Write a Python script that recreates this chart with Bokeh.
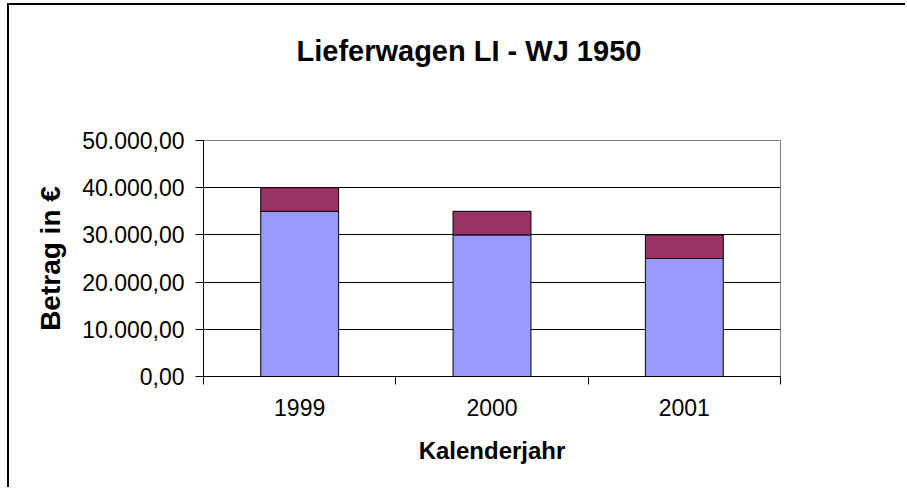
from bokeh.plotting import figure
from bokeh.models import ColumnDataSource, FixedTicker, Range1d, Title
from bokeh.embed import file_html
from bokeh.resources import INLINE

# ---- data ----
years = ["1999", "2000", "2001"]
series_a = [35000, 30000, 25000]
series_b = [5000, 5000, 5000]
y_ticks = [0, 10000, 20000, 30000, 40000, 50000]
y_tick_labels = ["0,00", "10.000,00", "20.000,00", "30.000,00", "40.000,00", "50.000,00"]
title_text = "Lieferwagen LI - WJ 1950"
x_title = "Kalenderjahr"
y_title = "Betrag in €"

FONT = "Liberation Sans"

x_pos = [i + 0.5 for i in range(len(years))]
src = ColumnDataSource(dict(x=x_pos, a=series_a, b=series_b))

p = figure(width=898, height=484,
           x_range=Range1d(0, len(years)), y_range=Range1d(0, 50000),
           output_backend="svg", toolbar_location=None, title=None,
           min_border_left=194, min_border_right=127,
           min_border_top=135, min_border_bottom=113)
p.styles = {"border-left": "2px solid black", "border-top": "2px solid black",
            "margin-left": "7px", "margin-top": "3px"}

p.vbar_stack(["a", "b"], x="x", width=0.405, source=src,
             fill_color=["#9999FF", "#993366"], line_color="black", line_width=1)

p.background_fill_color = "white"
p.border_fill_color = "white"
p.outline_line_color = "#808080"
p.outline_line_width = 1

# y axis
p.yaxis.ticker = FixedTicker(ticks=y_ticks)
p.yaxis.major_label_overrides = {t: l for t, l in zip(y_ticks, y_tick_labels)}
p.yaxis.major_tick_out = 8
p.yaxis.major_tick_in = 0
p.yaxis.minor_tick_line_color = None
p.yaxis.major_label_standoff = 11
p.yaxis.axis_label = y_title
p.yaxis.axis_label_standoff = 13

# x axis
p.xaxis.ticker = FixedTicker(ticks=x_pos, minor_ticks=list(range(len(years) + 1)))
p.xaxis.major_label_overrides = {x: y for x, y in zip(x_pos, years)}
p.xaxis.major_tick_line_color = None
p.xaxis.major_tick_out = 0
p.xaxis.major_tick_in = 0
p.xaxis.minor_tick_out = 8
p.xaxis.minor_tick_in = 0
p.xaxis.minor_tick_line_color = "black"
p.xaxis.major_label_standoff = 14
p.xaxis.axis_label = x_title
p.xaxis.axis_label_standoff = 18

for ax in (p.xaxis[0], p.yaxis[0]):
    ax.axis_line_color = "black"
    ax.major_label_text_font = FONT
    ax.major_label_text_font_size = "23px"
    ax.major_label_text_color = "black"
    ax.axis_label_text_font = FONT
    ax.axis_label_text_font_style = "bold"
    ax.axis_label_text_color = "black"
p.xaxis.axis_label_text_font_size = "24px"
p.yaxis.axis_label_text_font_size = "28px"
p.yaxis.major_tick_line_color = "black"

p.xgrid.grid_line_color = None
p.ygrid.ticker = FixedTicker(ticks=y_ticks[1:-1])
p.ygrid.grid_line_color = "black"
p.ygrid.grid_line_width = 1

# title: two padding lines below keep the heading high inside the top panel
title = Title(text=title_text + "\n \n ", align="left", offset=93, standoff=19,
              text_font=FONT, text_font_size="29px", text_font_style="bold",
              text_color="black")
p.add_layout(title, "above")

open("out.html", "w").write(file_html(p, INLINE))
